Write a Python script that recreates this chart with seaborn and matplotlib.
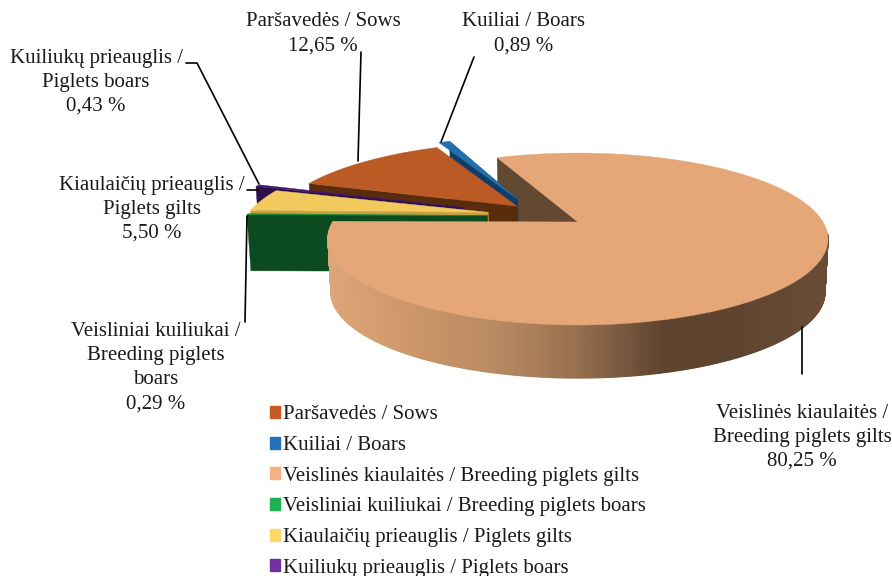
import matplotlib
matplotlib.use("Agg")
import matplotlib.pyplot as plt
from matplotlib.patches import Patch
import numpy as np
import seaborn as sns

# share of the herd, same order as the legend
categories = ["Paršavedės / Sows", "Kuiliai / Boars", "Veislinės kiaulaitės / Breeding piglets gilts",
              "Veisliniai kuiliukai / Breeding piglets boars", "Kiaulaičių prieauglis / Piglets gilts",
              "Kuiliukų prieauglis / Piglets boars"]
shares = [12.65, 0.89, 80.25, 0.29, 5.50, 0.43]
share_labels = ["Paršavedės / Sows\n12,65 %", "Kuiliai / Boars\n0,89 %",
                "Veislinės kiaulaitės /\nBreeding piglets gilts\n80,25 %",
                "Veisliniai kuiliukai /\nBreeding piglets\nboars\n0,29 %",
                "Kiaulaičių prieauglis /\nPiglets gilts\n5,50 %",
                "Kuiliukų prieauglis /\nPiglets boars\n0,43 %"]

legend_colors = ["#C55A24", "#2273B8", "#F4B183", "#1FB04F", "#FFD966", "#7030A0"]
top_colors = ["#BC5A26", "#2470AE", "#E5A678", "#1B8A3C", "#F2C95C", "#44176A"]
wall_colors = ["#5A2C0E", "#0F3F66", "#634832", "#0C4A20", "#C9A040", "#2E0F4C"]

# how far each slice is pulled out of the pie, in pie radii
explode = [(-0.26, 0.20), (-0.26, 0.29), (0, 0), (-0.375, 0.08), (-0.375, 0.12), (-0.48, 0.18)]

# layout of the tilted pie, pixels
cx, cy = 578, 222
ax_r, k, p = 245, 82.6, 0.198
piece_depth = 56
rim_depth = 53
shrink = 0.988


def project(u, v):
    d = 1 + p * v
    return cx + ax_r * u / d, cy - k * v / d


def lower(x, y, depth=piece_depth):
    return cx + (x - cx) * shrink, y + depth


def warp(deg):
    # the back left of the drawing is turned a little further than the shares say
    wrapped = (deg + 180) % 360 - 180
    return deg + np.interp(wrapped, [90, 108.4, 158, 179.5], [0, 4.6, 4.6, 0])


sns.set_theme(style="white")
plt.rcParams["font.family"] = ["Liberation Serif", "DejaVu Sans"]

fig, ax = plt.subplots(figsize=(8.92, 5.76), dpi=100)
fig.subplots_adjust(0, 0, 1, 1)
ax.set_xlim(0, 892)
ax.set_ylim(576, 0)
ax.axis("off")

# clockwise from the start of the first slice
sweeps = np.array(shares) / sum(shares) * 360
ends = 157.1 - np.cumsum(sweeps)
starts = ends + sweeps


def wedge(i):
    th = np.radians(warp(np.linspace(starts[i], ends[i], max(int(sweeps[i]) * 2, 8))))
    ou, ov = explode[i]
    x, y = project(ou + np.cos(th), ov + np.sin(th))
    ax_x, ax_y = project(ou, ov)
    return x, y, ax_x, ax_y


def cut_face(x0, y0, x1, y1, color):
    bx0, by0 = lower(x0, y0)
    bx1, by1 = lower(x1, y1)
    ax.fill([x0, x1, bx1, bx0], [y0, y1, by1, by0], color=color, lw=0.3)


def draw_piece(i, use_end=False):
    x, y, ax_x, ax_y = wedge(i)
    if use_end:
        cut_face(ax_x, ax_y, x[-1], y[-1], wall_colors[i])
    else:
        # start edge of the slice looks towards the viewer
        cut_face(ax_x, ax_y, x[0], y[0], wall_colors[i])
    ax.fill(np.r_[ax_x, x], np.r_[ax_y, y], color=top_colors[i], lw=0.3)


# big slice, far cut face goes first
big = 2
x_big, y_big, ax_bx, ax_by = wedge(big)
cut_face(ax_bx, ax_by, x_big[0], y_big[0], wall_colors[big])

draw_piece(1, use_end=True)
draw_piece(0)
draw_piece(5)
draw_piece(4)
draw_piece(3)

# rim of the big slice, shaded left to right
shade = sns.blend_palette(["#DDA678", "#CB9668", "#B98A62", "#96704F", "#5F4530", "#5F4530", "#6A4C36"], 120)
th = np.radians(np.linspace(ends[big], -8, 400))
rx, ry = project(np.cos(th), np.sin(th))
for j in range(len(th) - 1):
    bx, by = lower(rx[j:j + 2], ry[j:j + 2], rim_depth)
    c = shade[int(np.clip((rx[j] - 328) / 500, 0, 0.999) * 120)]
    ax.fill([rx[j], rx[j + 1], bx[1], bx[0]], [ry[j], ry[j + 1], by[1], by[0]], color=c, lw=0.9)
ax.fill(np.r_[ax_bx, x_big], np.r_[ax_by, y_big], color=top_colors[big], lw=0.3)

# labels
label_xy = [(323, 34), (524, 34), (802, 437.5), (156, 367.5), (152, 209.5), (96, 82.5)]
for txt, (tx, ty) in zip(share_labels, label_xy):
    ax.text(tx, ty, txt, ha="center", va="center", fontsize=15, color="#1a1a1a", linespacing=1.36)

# leader lines
leaders = [([361, 358], [52, 161]), ([474, 441], [57, 142]), ([802, 802], [327, 374]),
           ([245, 247], [322, 216]), ([247, 258], [190, 190]), ([186, 197, 259], [63, 63, 184])]
for lx, ly in leaders:
    ax.plot(lx, ly, color="black", lw=1.2)

handles = [Patch(color=c, label=n) for c, n in zip(legend_colors, categories)]
ax.legend(handles=handles, loc="upper left", bbox_to_anchor=(259.5 / 892, 1 - 395 / 576), frameon=False,
          fontsize=15, handlelength=0.5, handleheight=0.5, handletextpad=0.15, labelspacing=0.56,
          borderpad=0, labelcolor="#1a1a1a")

fig.savefig("out.png", dpi=100)
